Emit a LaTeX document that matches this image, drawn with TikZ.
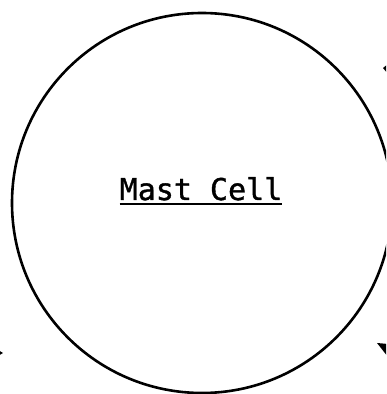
\documentclass[tikz,border=0pt]{standalone}
\usepackage{fontspec}
\setmonofont[FakeBold=1.2]{DejaVu Sans Mono}
\begin{document}
\begin{tikzpicture}[x=1pt,y=1pt,
  cellcircle/.style={circle,draw=black,line width=2.6pt,minimum size=380pt,inner sep=0pt},
  celltext/.style={font=\ttfamily\fontsize{30}{36}\selectfont,inner sep=0pt,anchor=base},
  tipfill/.style={fill=black,draw=none}]
\useasboundingbox (0,0) rectangle (386,394);
\clip (0,0) rectangle (386,394);
\fill[white] (0,0) rectangle (386,394);
\node[cellcircle] (cell) at (202,191) {};
\node[celltext] (label) at (201,194) {Mast Cell};
\draw[line width=2.2pt] ([yshift=-4pt]label.base west) -- ([yshift=-4pt]label.base east);
% partially visible arrowheads at the edges
\coordinate (tipA) at (383,326);
\coordinate (tipB) at (377,51);
\coordinate (tipC) at (3,41);
\path[tipfill] (tipA) -- (388,330) -- (388,320) -- cycle;
\path[tipfill] (tipB) -- (388,50) -- (388,37) -- cycle;
\path[tipfill] (tipC) -- (-2,44) -- (-2,38) -- cycle;
\end{tikzpicture}
\end{document}
